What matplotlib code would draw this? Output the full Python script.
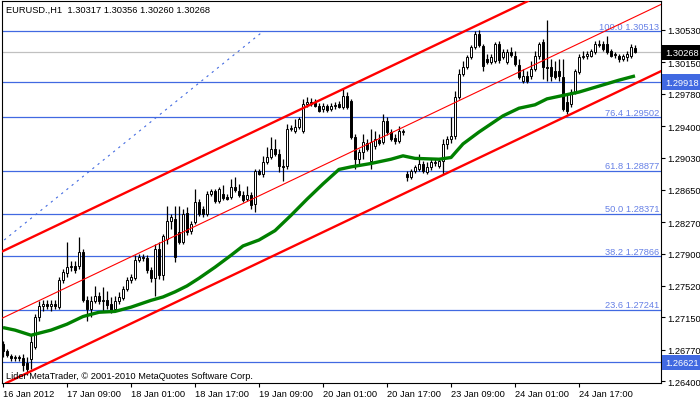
import numpy as np
import matplotlib.pyplot as plt
from matplotlib.transforms import blended_transform_factory

plt.rcParams['font.family'] = ['Liberation Sans', 'DejaVu Sans']

# EURUSD H1 candles, one per hour, oldest first
opens = [
    1.2684, 1.2676, 1.2669, 1.2667, 1.2668, 1.2667, 1.2661, 1.2666, 1.2680, 1.2715,
    1.2728, 1.2731, 1.2728, 1.2731, 1.2727, 1.2759, 1.2767, 1.2774, 1.2776, 1.2775,
    1.2792, 1.2736, 1.2725, 1.2734, 1.2740, 1.2734, 1.2736, 1.2731, 1.2725, 1.2734,
    1.2738, 1.2748, 1.2759, 1.2761, 1.2783, 1.2786, 1.2785, 1.2771, 1.2761, 1.2795,
    1.2765, 1.2807, 1.2828, 1.2831, 1.2815, 1.2804, 1.2838, 1.2816, 1.2827, 1.2851,
    1.2842, 1.2836, 1.2860, 1.2864, 1.2852, 1.2860, 1.2856, 1.2856, 1.2868, 1.2864,
    1.2859, 1.2854, 1.2859, 1.2848, 1.2887, 1.2884, 1.2898, 1.2904, 1.2913, 1.2907,
    1.2893, 1.2893, 1.2936, 1.2934, 1.2939, 1.2934, 1.2966, 1.2968, 1.2967, 1.2964,
    1.2960, 1.2964, 1.2960, 1.2964, 1.2966, 1.2962, 1.2975, 1.2969, 1.2927, 1.2901,
    1.2909, 1.2920, 1.2899, 1.2916, 1.2924, 1.2921, 1.2946, 1.2933, 1.2926, 1.2922,
    1.2933, 1.2884, 1.2880, 1.2887, 1.2889, 1.2895, 1.2886, 1.2892, 1.2896, 1.2893,
    1.2899, 1.2919, 1.2925, 1.2928, 1.2974, 1.3001, 1.3009, 1.3021, 1.3033, 1.3048,
    1.3034, 1.3019, 1.3015, 1.3017, 1.3037, 1.3021, 1.3015, 1.3027, 1.3022, 1.3012,
    1.2993, 1.2999, 1.2999, 1.3007, 1.3022, 1.3039, 1.3009, 1.3009, 1.3005, 1.3005,
    1.2998, 1.2968, 1.2966, 1.2980, 1.3004, 1.3021, 1.3022, 1.3022, 1.3027, 1.3035,
    1.3037, 1.3037, 1.3028, 1.3024, 1.3022, 1.3019, 1.3021, 1.3022, 1.30317,
]
highs = [
    1.2687, 1.2678, 1.2672, 1.2671, 1.2671, 1.2672, 1.2668, 1.2695, 1.2719, 1.2734,
    1.2735, 1.2736, 1.2735, 1.2736, 1.2762, 1.2772, 1.2804, 1.2781, 1.2781, 1.2809,
    1.2795, 1.2740, 1.2740, 1.2752, 1.2745, 1.2751, 1.2746, 1.2739, 1.2740, 1.2745,
    1.2752, 1.2762, 1.2766, 1.2788, 1.2789, 1.2789, 1.2788, 1.2774, 1.2801, 1.2804,
    1.2813, 1.2846, 1.2836, 1.2846, 1.2846, 1.2842, 1.2845, 1.2828, 1.2866, 1.2854,
    1.2846, 1.2864, 1.2866, 1.2866, 1.2868, 1.2871, 1.2860, 1.2878, 1.2880, 1.2872,
    1.2864, 1.2869, 1.2862, 1.2889, 1.2889, 1.2905, 1.2915, 1.2927, 1.2925, 1.2913,
    1.2901, 1.2942, 1.2941, 1.2948, 1.2951, 1.2972, 1.2974, 1.2973, 1.2972, 1.2967,
    1.2967, 1.2966, 1.2967, 1.2968, 1.2969, 1.2984, 1.2980, 1.2972, 1.2931, 1.2913,
    1.2931, 1.2925, 1.2936, 1.2934, 1.2931, 1.2954, 1.2951, 1.2936, 1.2931, 1.2940,
    1.2936, 1.2887, 1.2889, 1.2894, 1.2907, 1.2899, 1.2898, 1.2901, 1.2901, 1.2901,
    1.2925, 1.2928, 1.2951, 1.2981, 1.3007, 1.3017, 1.3024, 1.3035, 1.3052, 1.3053,
    1.3037, 1.3025, 1.3025, 1.3039, 1.3040, 1.3031, 1.3031, 1.3033, 1.3028, 1.3019,
    1.3007, 1.3005, 1.3017, 1.3028, 1.3039, 1.3042, 1.3065, 1.3019, 1.3017, 1.3019,
    1.3019, 1.2978, 1.2984, 1.3007, 1.3025, 1.3028, 1.3028, 1.3031, 1.3040, 1.3041,
    1.3040, 1.3046, 1.3031, 1.3027, 1.3025, 1.3025, 1.3028, 1.3037, 1.30356,
]
lows = [
    1.2668, 1.2668, 1.2664, 1.2664, 1.2664, 1.2652, 1.2647, 1.2654, 1.2678, 1.2711,
    1.2723, 1.2725, 1.2723, 1.2725, 1.2725, 1.2755, 1.2763, 1.2769, 1.2767, 1.2772,
    1.2733, 1.2711, 1.2715, 1.2732, 1.2731, 1.2721, 1.2725, 1.2720, 1.2722, 1.2731,
    1.2735, 1.2746, 1.2755, 1.2759, 1.2780, 1.2781, 1.2767, 1.2757, 1.2740, 1.2760,
    1.2759, 1.2801, 1.2819, 1.2780, 1.2801, 1.2801, 1.2812, 1.2813, 1.2825, 1.2834,
    1.2833, 1.2834, 1.2858, 1.2849, 1.2849, 1.2853, 1.2853, 1.2854, 1.2862, 1.2856,
    1.2851, 1.2852, 1.2842, 1.2839, 1.2882, 1.2880, 1.2895, 1.2901, 1.2905, 1.2886,
    1.2875, 1.2889, 1.2934, 1.2932, 1.2936, 1.2932, 1.2962, 1.2964, 1.2962, 1.2956,
    1.2956, 1.2956, 1.2958, 1.2960, 1.2961, 1.2960, 1.2960, 1.2925, 1.2889, 1.2895,
    1.2901, 1.2911, 1.2889, 1.2913, 1.2918, 1.2919, 1.2929, 1.2922, 1.2919, 1.2920,
    1.2929, 1.2875, 1.2878, 1.2885, 1.2887, 1.2885, 1.2884, 1.2888, 1.2893, 1.2891,
    1.2884, 1.2913, 1.2920, 1.2925, 1.2972, 1.2999, 1.3007, 1.3019, 1.3031, 1.3033,
    1.3005, 1.3013, 1.3013, 1.3014, 1.3014, 1.3019, 1.3013, 1.3021, 1.3011, 1.2995,
    1.2991, 1.2991, 1.2995, 1.3005, 1.3019, 1.2995, 1.2993, 1.2993, 1.2995, 1.2993,
    1.2958, 1.2954, 1.2962, 1.2978, 1.3001, 1.3019, 1.3019, 1.3021, 1.3025, 1.3033,
    1.3028, 1.3025, 1.3021, 1.3020, 1.3015, 1.3017, 1.3017, 1.3020, 1.30260,
]
closes = [
    1.2676, 1.2671, 1.2667, 1.2668, 1.2667, 1.2659, 1.2654, 1.2686, 1.2715, 1.2728,
    1.2731, 1.2728, 1.2731, 1.2728, 1.2759, 1.2768, 1.2774, 1.2776, 1.2771, 1.2792,
    1.2736, 1.2725, 1.2734, 1.2740, 1.2734, 1.2736, 1.2729, 1.2723, 1.2734, 1.2739,
    1.2748, 1.2759, 1.2762, 1.2783, 1.2786, 1.2785, 1.2771, 1.2761, 1.2795, 1.2765,
    1.2811, 1.2828, 1.2833, 1.2786, 1.2804, 1.2836, 1.2815, 1.2825, 1.2851, 1.2836,
    1.2836, 1.2860, 1.2864, 1.2852, 1.2866, 1.2855, 1.2854, 1.2868, 1.2865, 1.2859,
    1.2853, 1.2859, 1.2847, 1.2887, 1.2884, 1.2898, 1.2904, 1.2913, 1.2907, 1.2893,
    1.2892, 1.2936, 1.2938, 1.2939, 1.2948, 1.2966, 1.2968, 1.2966, 1.2964, 1.2958,
    1.2964, 1.2959, 1.2964, 1.2965, 1.2962, 1.2975, 1.2962, 1.2927, 1.2901, 1.2909,
    1.2921, 1.2913, 1.2921, 1.2925, 1.2920, 1.2946, 1.2933, 1.2925, 1.2922, 1.2934,
    1.2934, 1.2880, 1.2887, 1.2892, 1.2895, 1.2887, 1.2892, 1.2898, 1.2898, 1.2899,
    1.2919, 1.2925, 1.2928, 1.2974, 1.3001, 1.3009, 1.3021, 1.3033, 1.3048, 1.3035,
    1.3011, 1.3015, 1.3021, 1.3037, 1.3018, 1.3027, 1.3027, 1.3024, 1.3013, 1.2998,
    1.2999, 1.2993, 1.3007, 1.3022, 1.3037, 1.3009, 1.3008, 1.2999, 1.2998, 1.2999,
    1.2960, 1.2958, 1.2980, 1.3005, 1.3021, 1.3022, 1.3025, 1.3028, 1.3037, 1.3037,
    1.3031, 1.3027, 1.3022, 1.3025, 1.3019, 1.3022, 1.3025, 1.3033, 1.30268,
]

# moving average (read at some bars)
ma_bars = [0, 3, 7, 12, 16, 20, 24, 28, 32, 37, 40, 43, 46, 49, 53, 57, 60, 64, 68, 72,
           76, 80, 84, 87, 92, 97, 100, 103, 109, 112, 115, 119, 125, 129, 133, 136, 140,
           144, 149, 154, 158]
ma_vals = [1.2703, 1.2700, 1.2694, 1.2700, 1.2707, 1.2716, 1.2721, 1.2722, 1.2727, 1.2735,
           1.2739, 1.2745, 1.2752, 1.2761, 1.2774, 1.2788, 1.2799, 1.2806, 1.2817, 1.2835,
           1.2854, 1.2872, 1.2889, 1.2892, 1.2896, 1.2901, 1.2905, 1.2902, 1.2901, 1.2903,
           1.2919, 1.2933, 1.2952, 1.2961, 1.2965, 1.2972, 1.2976, 1.2980, 1.2987, 1.2994,
           1.2999]

# equidistant channel, price at bar 0 and bar 158
chan_bars = [0, 158]
chan_upper = [1.2793, 1.3147]
chan_mid = [1.27145, 1.30685]
chan_lower = [1.2636, 1.2990]

# fibonacci retracement
fib_bars = [-48, 65]
fib_prices = [1.26229, 1.30513]
fib_levels = [100.0, 76.4, 61.8, 50.0, 38.2, 23.6]
fib_values = [1.30513, 1.29502, 1.28877, 1.28371, 1.27866, 1.27241]
hlines = [1.29918, 1.26621]
bid = 1.30268

yticks = [1.30530, 1.30150, 1.29780, 1.29400, 1.29030, 1.28650,
          1.28270, 1.27900, 1.27520, 1.27150, 1.26770, 1.26400]
xtick_bars = [0, 16, 32, 48, 64, 80, 96, 112, 128, 144]
xtick_labels = ['16 Jan 2012', '17 Jan 09:00', '18 Jan 01:00', '18 Jan 17:00',
                '19 Jan 09:00', '20 Jan 01:00', '20 Jan 17:00', '23 Jan 09:00',
                '24 Jan 01:00', '24 Jan 17:00']

blue = '#4169E1'
fs = 6.7

fig = plt.figure(figsize=(7, 4.02), dpi=100)
ax = fig.add_axes([2/700, 18/402, 659/700, 382/402])
ax.set_xlim(-0.25, 164.5)
ax.set_ylim(1.26378, 1.30871)
tr = blended_transform_factory(ax.transAxes, ax.transData)

for p in fib_values + hlines:
    ax.axhline(p, color=blue, lw=0.9, zorder=1)
ax.axhline(bid, color='#C0C0C0', lw=0.9, zorder=1)
for lvl, p in zip(fib_levels, fib_values):
    ax.text(0.997, p + 0.00003, f'{lvl:.1f} {p:.5f}', transform=tr, ha='right',
            va='bottom', color='#6680E6', fontsize=fs, zorder=2)
ax.plot(fib_bars, fib_prices, color=blue, lw=0.8, ls=(0, (2, 4)), zorder=1)

# candles
o = np.array(opens)
c = np.array(closes)
x = np.arange(len(c))
up = c >= o
bottom = np.minimum(o, c)
height = np.maximum(np.abs(c - o), 0.00003)
ax.vlines(x, lows, highs, color='black', lw=0.9, zorder=3)
ax.bar(x, height, 0.65, bottom, color=np.where(up, 'white', 'black'),
       edgecolor='black', linewidth=0.7, zorder=4)

ax.plot(ma_bars, ma_vals, color='#008000', lw=2.4, zorder=5, solid_capstyle='butt')

ax.axline((chan_bars[0], chan_upper[0]), (chan_bars[1], chan_upper[1]), color='red', lw=1.7, zorder=6)
ax.axline((chan_bars[0], chan_mid[0]), (chan_bars[1], chan_mid[1]), color='red', lw=0.8, zorder=6)
ax.axline((chan_bars[0], chan_lower[0]), (chan_bars[1], chan_lower[1]), color='red', lw=1.7, zorder=6)

# axes
for s in ax.spines.values():
    s.set_color('black')
    s.set_linewidth(0.8)
ax.yaxis.tick_right()
ax.set_yticks(yticks)
ax.set_yticklabels([f'{v:.5f}' for v in yticks])
ax.set_xticks(xtick_bars)
ax.set_xticklabels(xtick_labels)
plt.setp(ax.get_xticklabels(), ha='left')
ax.tick_params(axis='both', direction='out', length=3, width=0.8, labelsize=fs, pad=1.5)

for p, col in [(bid, 'black'), (hlines[0], blue), (hlines[1], blue)]:
    ax.text(1.0065, p, f'{p:.5f}', transform=tr, ha='left', va='center', color='white',
            fontsize=fs, zorder=10, clip_on=False,
            bbox=dict(boxstyle='square,pad=0.35', fc=col, ec='none'))

fig.text(6/700, 1 - 10/402, 'EURUSD.,H1  1.30317 1.30356 1.30260 1.30268',
         fontsize=fs, va='center')
fig.text(6/700, 1 - 377/402, 'Lider MetaTrader, © 2001-2010 MetaQuotes Software Corp.',
         fontsize=fs, va='center')

fig.savefig('out.png', dpi=100)
